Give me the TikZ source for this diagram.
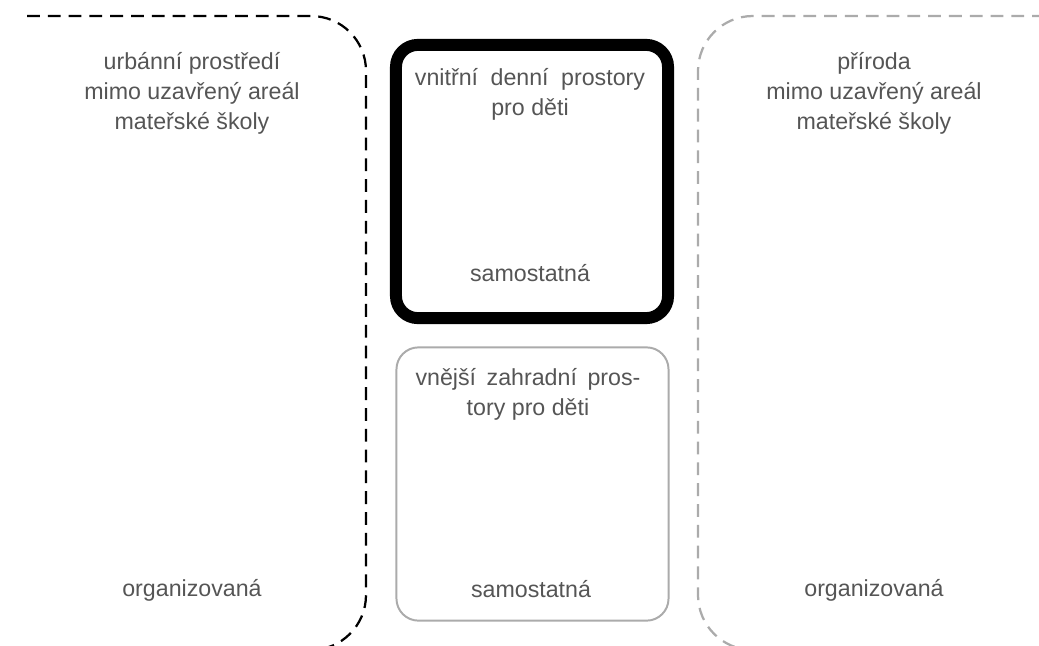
\documentclass[tikz,border=0pt]{standalone}
\usepackage{fontspec}
\setmainfont{Liberation Sans}
\usepackage{tikz}
\usetikzlibrary{positioning}
\definecolor{txtgray}{HTML}{555555}
\definecolor{linegray}{HTML}{ABABAB}
\tikzset{
  zone/.style={line width=1.6pt, dash pattern=on 0.32cm off 0.2cm},
  roombox/.style={rounded corners=0.55cm, minimum width=6.8cm, minimum height=6.83cm},
  lbl/.style={text=txtgray, align=center, inner sep=0pt,
    font=\fontsize{16.5}{21.3}\selectfont},
}

\begin{document}
\begin{tikzpicture}[x=0.025cm, y=-0.025cm]
        \useasboundingbox (0,0) rectangle (1039,645);
        \clip (0,0) rectangle (1039,645);

        % outer zones
        \draw[zone, black] (27,16) -- (311,16) arc[start angle=90, end angle=0, radius=1.375cm]
            -- (366,595) arc[start angle=0, end angle=-90, radius=1.375cm] -- (27,650);
        \draw[zone, linegray] (1045,16) -- (753,16) arc[start angle=90, end angle=180, radius=1.375cm]
            -- (698,595) arc[start angle=180, end angle=270, radius=1.375cm] -- (1045,650);

        % rooms
        \node[roombox, draw=black, line width=8.5pt] (inner) at (532,181.5) {};
        \node[roombox, draw=linegray, line width=1.4pt] (garden) at (532.5,484) {};

        \node[lbl] (urban) at (192,93) {urbánní prostředí\\mimo uzavřený areál\\mateřské školy};
        \node[lbl] (nature) at (874,93) {příroda\\mimo uzavřený areál\\mateřské školy};
        \node[lbl] (innertxt) at (530,94) {\makebox[5.75cm][s]{vnitřní denní prostory}\\pro děti};
        \node[lbl] (gardentxt) at (528,394) {\makebox[5.62cm][s]{vnější zahradní pros-}\\tory pro děti};

        \node[lbl] (innermode) at (530,273) {samostatná};
        \node[lbl] (gardenmode) at (531,589) {samostatná};
        \node[lbl] (urbanmode) at (192,590) {organizovaná};
        \node[lbl] (naturemode) at (874,590) {organizovaná};
    \end{tikzpicture}
\end{document}
